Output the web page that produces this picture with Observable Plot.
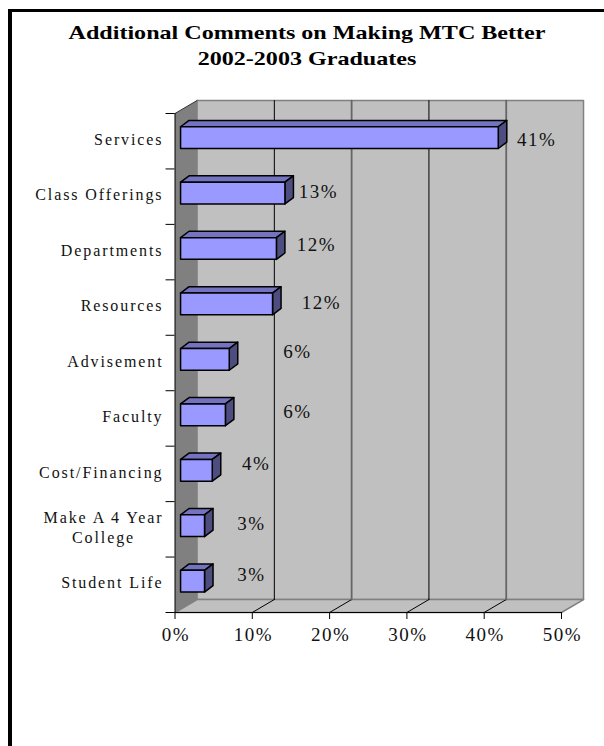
<!DOCTYPE html>
<html>
<head>
<meta charset="utf-8">
<script src="https://cdn.jsdelivr.net/npm/d3@7"></script>
<script src="https://cdn.jsdelivr.net/npm/@observablehq/plot@0.6"></script>
<style>
html,body{margin:0;padding:0;background:#fff;}
#page{position:relative;width:604px;height:746px;overflow:hidden;}
#frameTop{position:absolute;left:8px;right:0;top:9px;height:3px;background:#000;}
#frameLeft{position:absolute;left:8px;top:9px;bottom:0;width:4px;background:#000;}
#title{position:absolute;left:0;width:614px;top:20px;text-align:center;font:bold 19.5px/26px "Liberation Serif",serif;color:#000;transform:scaleX(1.235);transform-origin:307px 0;}
svg{display:block;position:absolute;left:0;top:0;background:transparent!important;}
.wide text{letter-spacing:1.5px;}
.cat text{letter-spacing:1.9px;}
</style>
</head>
<body>
<div id="page">
<div id="frameTop"></div><div id="frameLeft"></div>
<div id="title">Additional Comments on Making MTC Better<br>2002-2003 Graduates</div>
</div>
<script>
const categories = ["Services","Class Offerings","Departments","Resources","Advisement","Faculty","Cost/Financing","Make A 4 Year\nCollege","Student Life"];
const values = [41.1,13.5,12.4,11.9,6.3,5.8,4.1,3.1,3.1];
const valueLabels = ["41%","13%","12%","12%","6%","6%","4%","3%","3%"];
const xTicks = [0,10,20,30,40,50];

// label placement, in axis units (the reference places these by hand)
const labelAtX = [46.8,18.56,18.3,18.95,15.85,15.85,10.5,9.9,9.9];
const labelAtY = [0.485,1.42,2.37,3.41,4.30,5.38,6.32,7.40,8.32];

// 3-D depth, in axis units
const depthX = 2.85, depthY = 0.234;      // wall depth
const barFrontX = 0.72, barFrontY = 0.065; // front of bars behind the front plane
const barSideX = 1.1, barSideY = 0.115;   // bar depth
const barHalf = 0.196;
const tickLenX = 1.16, tickLenY = 0.126;
const n = categories.length, xMax = 50;

const poly = (pts, opt) => Plot.line([...pts, pts[0]], {x:"x", y:"y", curve:"linear", ...opt});
const P = (x,y)=>({x,y});

const wall = [P(depthX,-depthY),P(xMax+depthX,-depthY),P(xMax+depthX,n-depthY),P(depthX,n-depthY)];
const floor = [P(0,n),P(depthX,n-depthY),P(xMax+depthX,n-depthY),P(xMax,n)];
const side = [P(0,0),P(depthX,-depthY),P(depthX,n-depthY),P(0,n)];

const gridColor = t => (t===20||t===40) ? "#666666" : "#000000";
const gridWidth = t => (t===20||t===40) ? 1.8 : 1;
const gridLines = xTicks.slice(1,-1).flatMap(t => [
  Plot.line([P(t,n),P(t+depthX,n-depthY)],{x:"x",y:"y",stroke:"#000",strokeWidth:1}),
  Plot.line([P(t+depthX,n-depthY),P(t+depthX,-depthY)],{x:"x",y:"y",stroke:gridColor(t),strokeWidth:gridWidth(t)})
]);

const bars = values.flatMap((v,i) => {
  const c = i+0.5-barFrontY, t = c-barHalf, b = c+barHalf;
  const l = barFrontX, r = v+barFrontX;
  const sw = {stroke:"#000",strokeWidth:1.5,strokeLinejoin:"round"};
  return [
    poly([P(l,t),P(l+barSideX,t-barSideY),P(r+barSideX,t-barSideY),P(r,t)],{fill:"#7373c0",...sw}),
    poly([P(r,t),P(r+barSideX,t-barSideY),P(r+barSideX,b-barSideY),P(r,b)],{fill:"#4d4d80",...sw}),
    poly([P(l,t),P(r,t),P(r,b),P(l,b)],{fill:"#9999ff",...sw})
  ];
});

const serif = '"Liberation Serif",serif';
const catRows = categories.map((c,i)=>({c,i}));
const singleLine = catRows.filter(d=>!d.c.includes("\n"));
const twoLine = catRows.filter(d=>d.c.includes("\n")).flatMap(d=>d.c.split("\n").map((s,k)=>({s,i:d.i,k})));

const chart = Plot.plot({
  width:604, height:746,
  marginLeft:174.5, marginRight:43, marginTop:113, marginBottom:134,
  style:{background:"transparent",fontFamily:serif},
  x:{domain:[0,xMax],axis:null},
  y:{domain:[0,n],reverse:true,axis:null},
  marks:[
    poly(wall,{fill:"#c0c0c0",stroke:"#808080",strokeWidth:1.5}),
    poly(floor,{fill:"#c0c0c0",stroke:"#808080",strokeWidth:1.5}),
    poly(side,{fill:"#808080",stroke:"none"}),
    Plot.line([P(0,0),P(depthX,-depthY)],{x:"x",y:"y",stroke:"#333",strokeWidth:1}),
    ...gridLines,
    Plot.ruleY(d3.range(n+1),{x1:-tickLenX,x2:0,y:d=>d,stroke:"#000"}),
    Plot.ruleX([0],{y1:0,y2:n,stroke:"#000",strokeWidth:1}),
    Plot.ruleY([n],{x1:0,x2:xMax,stroke:"#000",strokeWidth:1.2}),
    Plot.ruleX(xTicks,{x:d=>d,y1:n,y2:n+tickLenY,stroke:"#000"}),
    ...bars,
    Plot.text(valueLabels,{className:"wide",x:(d,i)=>labelAtX[i],y:(d,i)=>labelAtY[i],text:d=>d,fontSize:19,fontFamily:serif,fill:"#111",textAnchor:"middle"}),
    Plot.text(singleLine,{className:"cat",x:0,y:d=>d.i+0.5,text:"c",textAnchor:"end",dx:-11.5,dy:-1.5,fontSize:16,fontFamily:serif,fill:"#111"}),
    Plot.text(twoLine,{className:"cat",x:-9.25,y:d=>d.i+0.5+(d.k-0.5)*0.36,text:"s",textAnchor:"middle",dy:-1.5,fontSize:16,fontFamily:serif,fill:"#111"}),
    Plot.text(xTicks,{className:"wide",x:d=>d,y:n,text:d=>d+"%",dy:22,dx:1,fontSize:19,fontFamily:serif,fill:"#111",textAnchor:"middle"})
  ]
});
document.getElementById("page").appendChild(chart);
</script>
</body>
</html>
